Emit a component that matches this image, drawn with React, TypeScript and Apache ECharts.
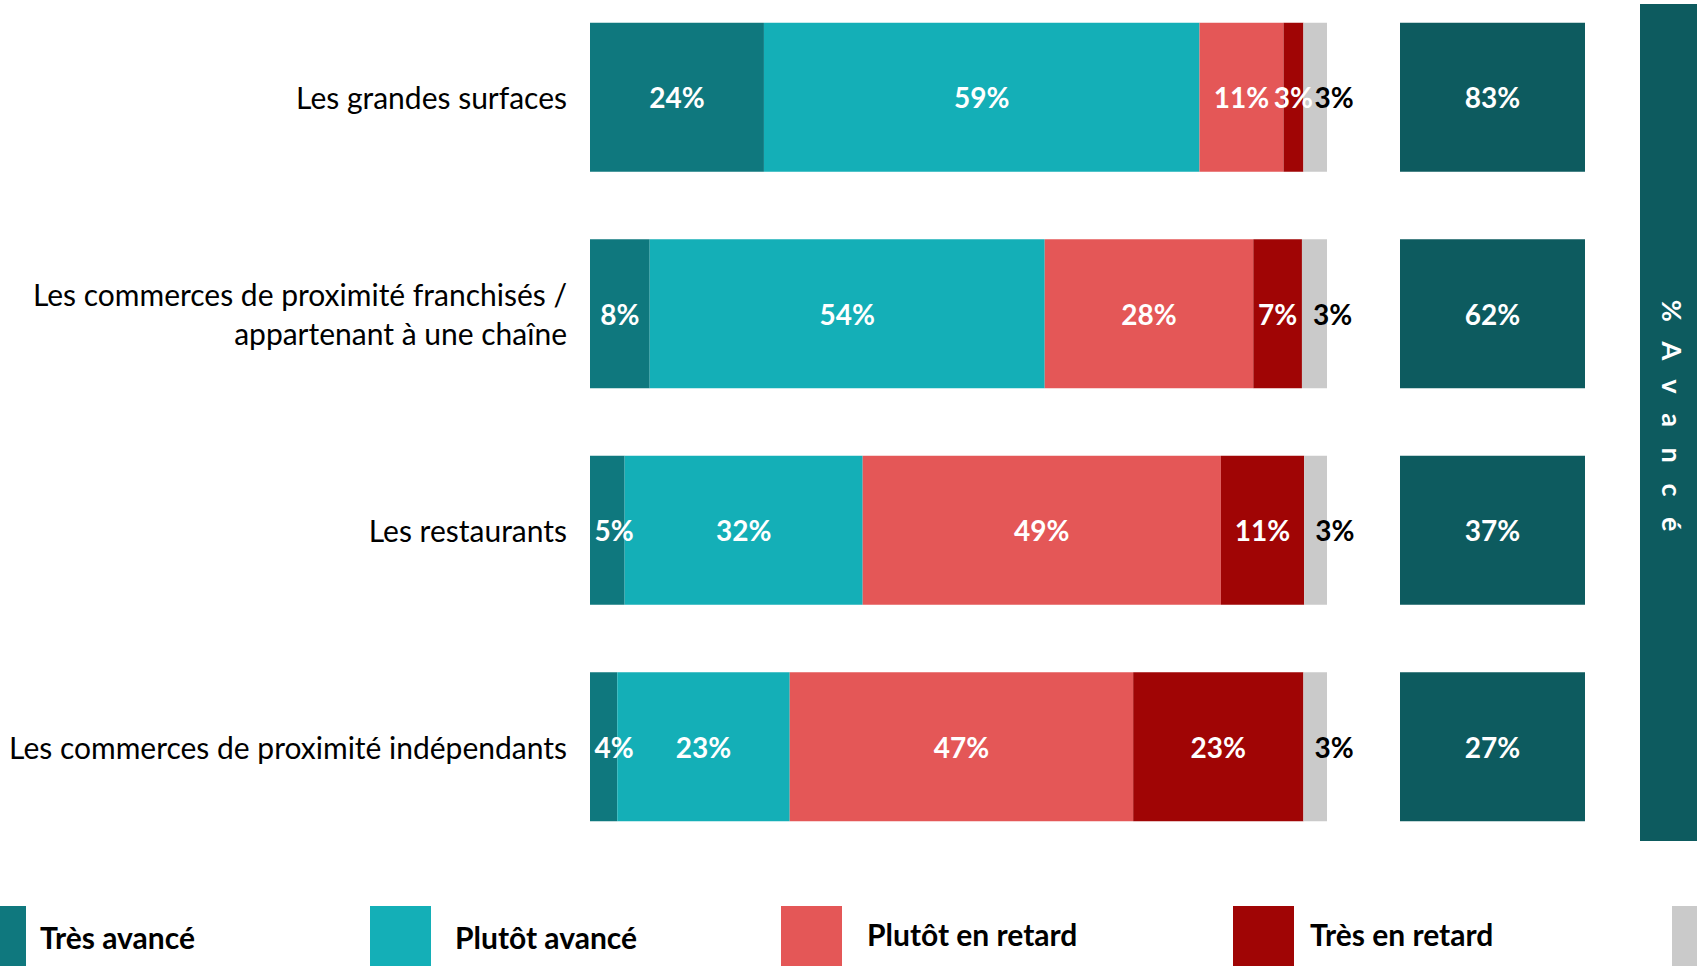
import React, { useEffect, useRef } from "react";
import * as echarts from "echarts";

const categories = [
  "Les grandes surfaces",
  "Les commerces de proximité franchisés /\nappartenant à une chaîne",
  "Les restaurants",
  "Les commerces de proximité indépendants",
];
const seriesNames = ["Très avancé", "Plutôt avancé", "Plutôt en retard", "Très en retard", "Ne sait pas"];
const tresAvance = [23.6, 8.1, 4.7, 3.7];
const plutotAvance = [59.1, 53.6, 32.3, 23.4];
const plutotRetard = [11.4, 28.3, 48.6, 46.6];
const tresRetard = [2.7, 6.6, 11.3, 23.1];
const nsp = [3.2, 3.4, 3.1, 3.2];
const avance = [83, 62, 37, 27];
const sideTitle = "% A v a n c é";

const colors = ["#0F787E", "#14AFB7", "#E45757", "#A00505", "#CACACA"];
const avanceColor = "#0D5B5F";
// legend layout: rect x, text x
const legendRectX = [-35, 370, 781, 1233, 1672];
const legendTextX = [40, 455, 867, 1310, null];
const legendTextY = [937, 937, 934, 934, 934];

const FONT = "Lato, 'Liberation Sans', sans-serif";
const PX_PER_PCT = 737 / 100;

export default function App() {
  const ref = useRef<HTMLDivElement>(null);
  useEffect(() => {
    const chart = echarts.init(ref.current!, null, { renderer: "svg" });
    const values = [tresAvance, plutotAvance, plutotRetard, tresRetard, nsp];
    const series: any[] = values.map((arr, i) => ({
      name: seriesNames[i],
      type: "bar",
      stack: "total",
      xAxisIndex: 0,
      yAxisIndex: 0,
      barWidth: 149,
      data: arr.map((v) => ({
        value: v,
        label:
          i === 0
            ? { offset: [Math.max(0, 24 - (v * PX_PER_PCT) / 2), 0] }
            : undefined,
      })),
      itemStyle: { color: colors[i] },
      label: {
        show: true,
        position: i === 4 ? "insideLeft" : "inside",
        offset: i === 4 ? [6, 0] : [0, 0],
        color: i === 4 ? "#000" : "#fff",
        fontFamily: FONT,
        fontWeight: "bold",
        fontSize: 28,
        formatter: (p: any) => Math.round(p.value) + "%",
      },
    }));
    series.push({
      name: "% Avancé",
      type: "bar",
      xAxisIndex: 1,
      yAxisIndex: 1,
      barWidth: 149,
      data: avance.map((v) => ({ value: 1, pct: v })),
      itemStyle: { color: avanceColor },
      label: {
        show: true,
        position: "inside",
        color: "#fff",
        fontFamily: FONT,
        fontWeight: "bold",
        fontSize: 28,
        formatter: (p: any) => p.data.pct + "%",
      },
    });

    const graphic: any[] = [];
    legendRectX.forEach((x, i) => {
      graphic.push({
        type: "rect",
        shape: { x, y: 906, width: 61, height: 80 },
        style: { fill: colors[i] },
      });
      const tx = legendTextX[i];
      if (tx !== null) {
        graphic.push({
          type: "text",
          x: tx,
          y: legendTextY[i],
          style: {
            text: seriesNames[i],
            fill: "#000",
            font: `bold 30px ${FONT}`,
            verticalAlign: "middle",
          },
        });
      }
    });
    graphic.push({
      type: "rect",
      shape: { x: 1640, y: 4, width: 80, height: 837 },
      style: { fill: avanceColor },
    });
    graphic.push({
      type: "text",
      x: 1672,
      y: 419,
      rotation: -Math.PI / 2,
      style: {
        text: sideTitle,
        fill: "#fff",
        font: `bold 27px ${FONT}`,
        align: "center",
        verticalAlign: "middle",
      },
    });

    chart.setOption({
      animation: false,
      backgroundColor: "#fff",
      grid: [
        { left: 590, width: 737, top: -11, height: 866, outerBoundsMode: "none" },
        { left: 1400, width: 185, top: -11, height: 866, outerBoundsMode: "none" },
      ],
      xAxis: [
        { type: "value", gridIndex: 0, min: 0, max: 100, show: false },
        { type: "value", gridIndex: 1, min: 0, max: 1, show: false },
      ],
      yAxis: [
        {
          type: "category",
          gridIndex: 0,
          data: categories,
          inverse: true,
          axisLine: { show: false },
          axisTick: { show: false },
          axisLabel: {
            margin: 23,
            color: "#000",
            fontFamily: FONT,
            fontSize: 30,
            lineHeight: 39,
            align: "right",
            padding: [11, 0, 0, 0],
          },
        },
        {
          type: "category",
          gridIndex: 1,
          data: categories,
          inverse: true,
          show: false,
        },
      ],
      series,
      graphic,
    });

    const patch = () => {
      const el = ref.current;
      if (!el) return;
      el.querySelectorAll("text").forEach((t) => {
        if (t.textContent === sideTitle) {
          t.setAttribute("letter-spacing", "7px");
        }
      });
    };
    patch();
    chart.on("finished", patch);
    return () => chart.dispose();
  }, []);
  return (
    <div
      ref={ref}
      style={{ position: "fixed", left: 0, top: 0, width: 1697, height: 966 }}
    />
  );
}
